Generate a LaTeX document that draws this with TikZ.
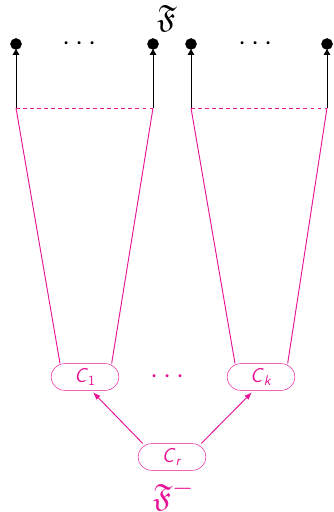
\documentclass[tikz,border=0pt]{standalone}
\usepackage{tikz}
\usetikzlibrary{positioning,arrows.meta,calc,shapes.misc}
\usepackage{amsmath,amssymb}
\usepackage{xcolor}
\definecolor{clpink}{RGB}{232,20,150}
\newcommand{\cls}[1]{\textsf{\textit{C}}$_{#1}$}

\begin{document}
\begin{tikzpicture}[
    leaf/.style={draw, circle, fill=black, minimum size=0.33cm, inner sep=0pt},
    cluster/.style={draw=clpink, rounded rectangle, minimum width=2.1cm, minimum height=0.8cm, inner sep=1pt, text=clpink, font=\LARGE},
    >=Triangle
  ]
  \useasboundingbox (0,0) rectangle (10.02,15.36);

  % leaves at the top
  \node[leaf] (l1) at (0.48,14.04) {};
  \node[leaf] (l2) at (4.59,14.04) {};
  \node[leaf] (l3) at (5.73,14.04) {};
  \node[leaf] (l4) at (9.81,14.04) {};
  \node[font=\Huge] (d1) at (2.46,14.04) {$\cdots$};
  \node[font=\Huge] (d2) at (7.74,14.04) {$\cdots$};
  \node[font=\Huge, scale=1.1] (ff) at (5.01,14.82) {$\mathfrak{F}$};

  \coordinate (b1) at (0.48,12.12);
  \coordinate (b2) at (4.59,12.12);
  \coordinate (b3) at (5.73,12.12);
  \coordinate (b4) at (9.81,12.12);

  % clusters
  \node[cluster] (c1) at (2.55,4.05) {\cls{\mathsf{1}}};
  \node[cluster] (ck) at (7.83,4.05) {\cls{\textsf{\textit{k}}}};
  \node[font=\Huge, text=clpink] (d3) at (5.1,4.05) {$\cdots$};
  \node[cluster] (cr) at (5.16,1.65) {\cls{\textsf{\textit{r}}}};
  \node[font=\Huge, scale=1.1, text=clpink, inner sep=0pt] (fm) at (5.2,0.5) {$\mathfrak{F}^-$};

  \foreach \i in {1,...,4}
    \draw[thick, ->, shorten >=-0.5pt] (b\i) -- (l\i);
  \draw[thick, clpink, dashed] (b1) -- (b2);
  \draw[thick, clpink, dashed] (b3) -- (b4);

  \draw[thick, clpink] (b1) -- ($(c1.north)+(-0.75,0)$);
  \draw[thick, clpink] (b2) -- ($(c1.north)+(0.8,0)$);
  \draw[thick, clpink] (b3) -- ($(ck.north)+(-0.78,0)$);
  \draw[thick, clpink] (b4) -- ($(ck.north)+(0.8,0)$);

  \draw[thick, clpink, -{Latex}] ($(cr.north)+(-0.88,0)$) -- ($(c1.south)+(0.24,-0.05)$);
  \draw[thick, clpink, -{Latex}] ($(cr.north)+(0.88,0)$) -- ($(ck.south)+(-0.27,-0.05)$);
\end{tikzpicture}
\end{document}
